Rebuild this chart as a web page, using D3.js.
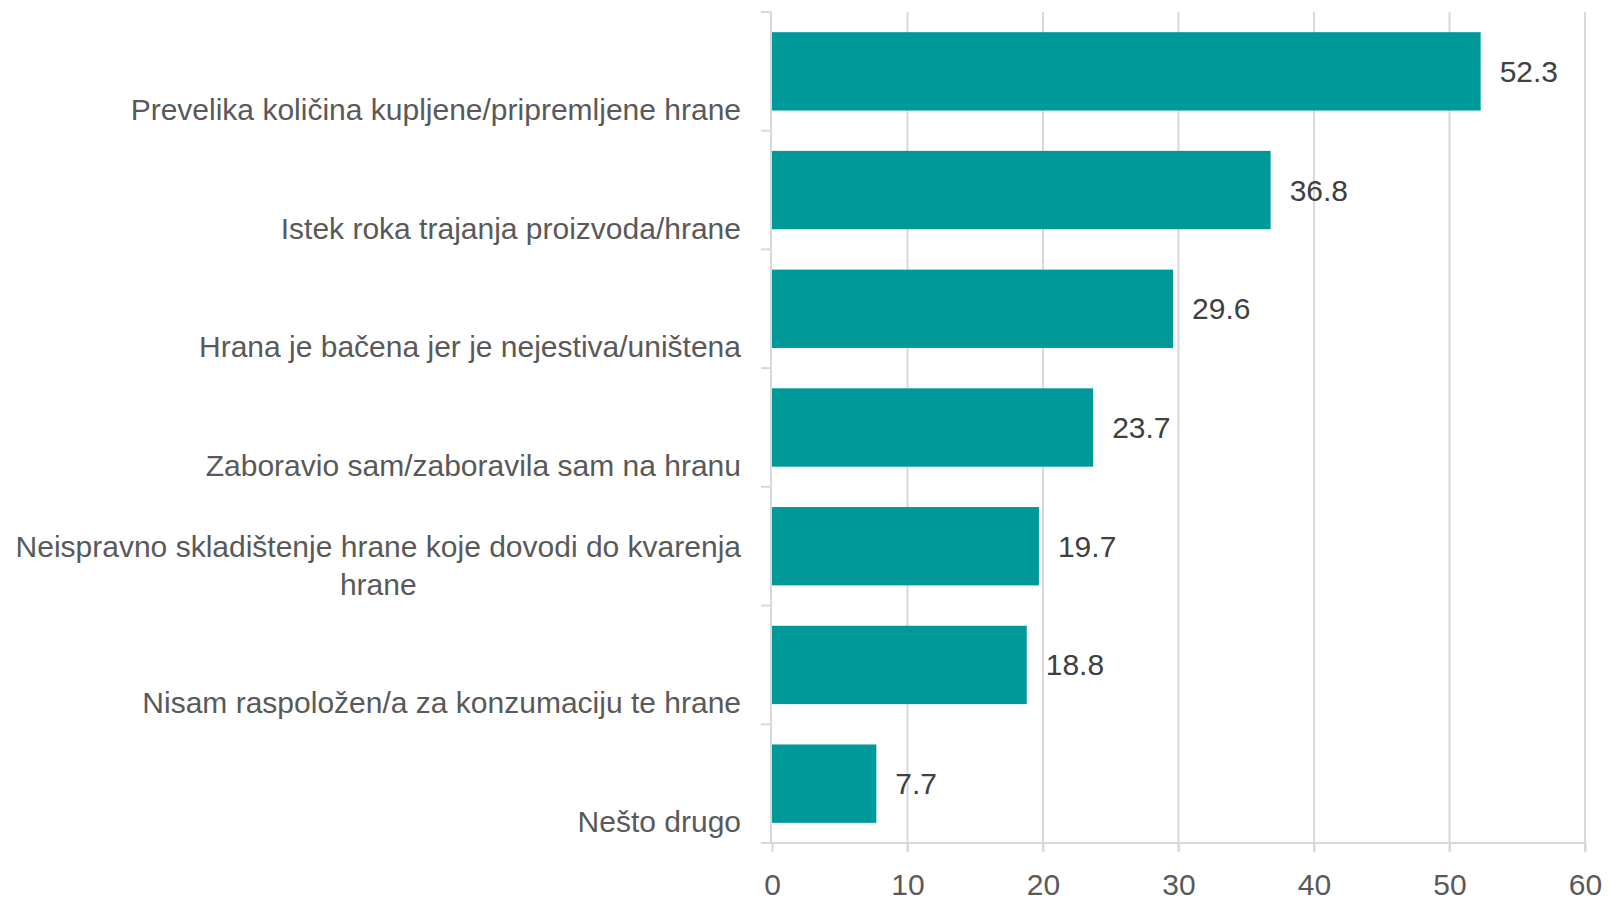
<!DOCTYPE html>
<html>
<head>
<meta charset="utf-8">
<script src="https://cdn.jsdelivr.net/npm/d3@7"></script>
<style>
html,body{margin:0;padding:0;background:#fff;}
svg{display:block;}
text{font-family:"Liberation Sans",Arial,sans-serif;}
</style>
</head>
<body>
<svg id="chart" width="1609" height="899"></svg>
<script>
const categories = [
  "Prevelika količina kupljene/pripremljene hrane",
  "Istek roka trajanja proizvoda/hrane",
  "Hrana je bačena jer je nejestiva/uništena",
  "Zaboravio sam/zaboravila sam na hranu",
  "Neispravno skladištenje hrane koje dovodi do kvarenja hrane",
  "Nisam raspoložen/a za konzumaciju te hrane",
  "Nešto drugo"
];
const values = [52.3, 36.8, 29.6, 23.7, 19.7, 18.8, 7.7];
const xTicks = [0, 10, 20, 30, 40, 50, 60];

(function () {
const svg = d3.select("#chart");
const pLeft = 772, pRight = 1585, pTop = 12, pBottom = 843;
const x = d3.scaleLinear().domain([0, 60]).range([pLeft, pRight]);
const y = d3.scaleBand().domain(categories).range([pTop, pBottom]).paddingInner(0.34).paddingOuter(0.17);

// gridlines
svg.append("g").selectAll("line").data(xTicks.filter(d => d > 0)).join("line")
  .attr("x1", d => x(d)).attr("x2", d => x(d))
  .attr("y1", pTop).attr("y2", pBottom + 9)
  .attr("stroke", "#d9d9d9").attr("stroke-width", 2);

// bars
svg.append("g").selectAll("rect").data(values).join("rect")
  .attr("x", x(0))
  .attr("y", (d, i) => y(categories[i]))
  .attr("width", d => x(d) - x(0))
  .attr("height", y.bandwidth())
  .attr("fill", "#009999");

// value labels
svg.append("g").selectAll("text").data(values).join("text")
  .attr("x", d => x(d) + 19)
  .attr("y", (d, i) => y(categories[i]) + y.bandwidth() / 2)
  .attr("dy", "0.35em")
  .attr("font-size", 30)
  .attr("fill", "#404040")
  .text(d => d.toFixed(1));

// y axis line and ticks at band boundaries
svg.append("line").attr("x1", pLeft - 1).attr("x2", pLeft - 1).attr("y1", pTop).attr("y2", pBottom)
  .attr("stroke", "#d9d9d9").attr("stroke-width", 2);
const bounds = d3.range(categories.length + 1).map(i => pTop + i * (pBottom - pTop) / categories.length);
svg.append("g").selectAll("line").data(bounds).join("line")
  .attr("x1", pLeft - 11).attr("x2", pLeft - 1)
  .attr("y1", d => d).attr("y2", d => d)
  .attr("stroke", "#d9d9d9").attr("stroke-width", 2);

// x axis
const xAxis = d3.axisBottom(x).tickValues(xTicks).tickSize(9).tickPadding(17).tickFormat(d3.format("d"));
const gx = svg.append("g").attr("transform", `translate(0,${pBottom})`).call(xAxis);
gx.select(".domain").remove();
gx.selectAll(".tick line").attr("stroke", "#d9d9d9").attr("stroke-width", 2);
gx.selectAll(".tick text").attr("font-size", 30).attr("fill", "#595959")
  .attr("font-family", "'Liberation Sans', Arial, sans-serif").attr("dy", "0.85em");
svg.append("line").attr("x1", pLeft - 11).attr("x2", pRight + 1).attr("y1", pBottom).attr("y2", pBottom)
  .attr("stroke", "#d9d9d9").attr("stroke-width", 2);

// category labels (wrapped, bottom-aligned within band)
const labelRight = 741, maxW = 745, lineH = 38;
const lg = svg.append("g");
categories.forEach((c) => {
  const words = c.split(" ");
  const tmp = lg.append("text").attr("font-size", 30);
  const lines = [];
  let cur = [];
  words.forEach(w => {
    const test = cur.concat([w]).join(" ");
    tmp.text(test);
    if (tmp.node().getComputedTextLength() > maxW && cur.length) {
      lines.push(cur.join(" "));
      cur = [w];
    } else cur.push(w);
  });
  lines.push(cur.join(" "));
  const widths = lines.map(l => { tmp.text(l); return tmp.node().getComputedTextLength(); });
  tmp.remove();
  const blockW = d3.max(widths);
  const cx = labelRight - blockW / 2;
  const center = y(c) + y.bandwidth() / 2;
  const lastY = center + 38;
  lines.forEach((l, j) => {
    lg.append("text")
      .attr("x", lines.length > 1 ? cx : labelRight)
      .attr("text-anchor", lines.length > 1 ? "middle" : "end")
      .attr("y", lastY - (lines.length - 1 - j) * lineH)
      .attr("dy", "0.35em")
      .attr("font-size", 30)
      .attr("fill", "#595959")
      .text(l);
  });
});
})();
</script>
</body>
</html>
